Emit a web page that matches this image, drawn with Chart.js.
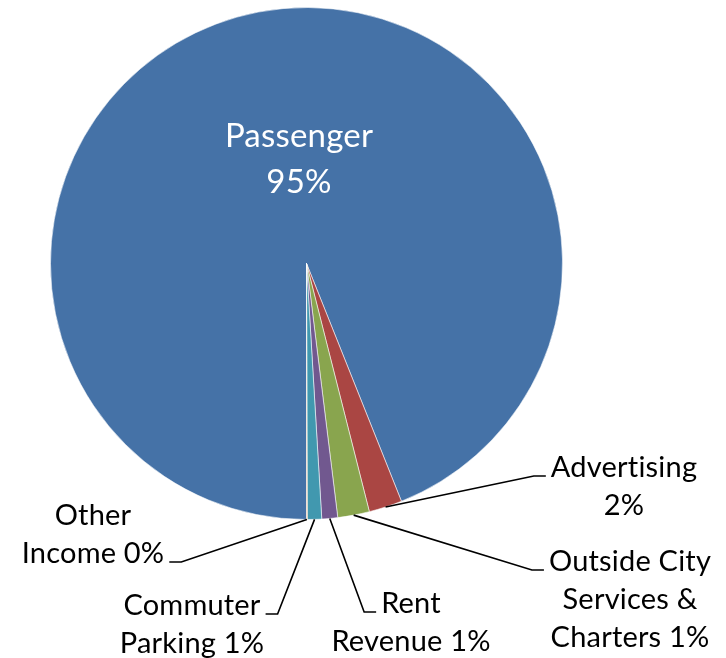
<!DOCTYPE html>
<html>
<head>
<meta charset="utf-8">
<script src="https://cdn.jsdelivr.net/npm/chart.js@4.4.0/dist/chart.umd.min.js"></script>
<style>
  html, body { margin: 0; padding: 0; background: #fff; }
  #wrap { width: 726px; height: 658px; }
</style>
</head>
<body>
<div id="wrap"><canvas id="revenuePie" width="726" height="658"></canvas></div>
<script>
// Revenue sources (share of total, %)
const categories = ['Passenger', 'Advertising', 'Outside City Services & Charters', 'Rent Revenue', 'Commuter Parking', 'Other Income'];
const shares = [94.0, 2.1, 2.0, 1.0, 0.9, 0.05];
const percentLabels = ['95%', '2%', '1%', '1%', '1%', '0%'];
// how each data label is wrapped in the picture
const labelLines = [
    ['Passenger', percentLabels[0]],
    ['Advertising', percentLabels[1]],
    ['Outside City', 'Services &', 'Charters ' + percentLabels[2]],
    ['Rent', 'Revenue ' + percentLabels[3]],
    ['Commuter', 'Parking ' + percentLabels[4]],
    ['Other', 'Income ' + percentLabels[5]]
];
const sliceColors = ['#4572A7', '#AA4643', '#89A54E', '#71588F', '#4198AF', '#DB843D'];

// label placement: centre x, first baseline y, which line the leader attaches to and on which side
const labelPlacement = [
    { x: 299, y: 147, inside: true },
    { x: 624, y: 477, attach: 0, side: 'left' },
    { x: 630, y: 571, attach: 0, side: 'left' },
    { x: 411, y: 613, attach: 0, side: 'left' },
    { x: 192, y: 615, attach: 0, side: 'right' },
    { x: 93, y: 525, attach: 1, side: 'right' }
];

const FONT = 'Lato, "Noto Sans", sans-serif';

const pieLabels = {
    id: 'pieLabels',
    afterDatasetsDraw(chart) {
        const ctx = chart.ctx;
        const arcs = chart.getDatasetMeta(0).data;
        ctx.save();
        ctx.textAlign = 'center';
        ctx.textBaseline = 'alphabetic';
        ctx.letterSpacing = '0.2px'; // keeps Lato from joining "ti"
        labelLines.forEach((lines, i) => {
            const p = labelPlacement[i];
            const size = p.inside ? 33 : 29;
            const lh = p.inside ? 46 : 38;
            ctx.font = size + 'px ' + FONT;
            ctx.fillStyle = p.inside ? '#fff' : '#000';
            lines.forEach((t, k) => ctx.fillText(t, p.x, p.y + k * lh));
            if (p.inside) return;

            // leader line from the middle of the slice's arc
            const a = arcs[i].getProps(['x', 'y', 'startAngle', 'endAngle', 'outerRadius'], true);
            const mid = (a.startAngle + a.endAngle) / 2;
            const sx = a.x + Math.cos(mid) * a.outerRadius;
            const sy = a.y + Math.sin(mid) * a.outerRadius;
            const w = ctx.measureText(lines[p.attach]).width;
            const ty = p.y + p.attach * lh - 1;
            let tailX, elbowX;
            if (p.side === 'left') {
                tailX = p.x - w / 2 - 5;
                elbowX = tailX - 12;
            } else {
                tailX = p.x + w / 2 + 5;
                elbowX = tailX + 12;
            }
            ctx.beginPath();
            ctx.moveTo(sx, sy);
            ctx.lineTo(elbowX, ty);
            ctx.lineTo(tailX, ty);
            ctx.strokeStyle = '#000';
            ctx.lineWidth = 1.6;
            ctx.stroke();
        });
        ctx.restore();
    }
};

new Chart(document.getElementById('revenuePie'), {
    type: 'pie',
    data: {
        labels: categories,
        datasets: [{
            data: shares,
            backgroundColor: sliceColors,
            borderColor: 'rgba(255,255,255,0.55)',
            borderWidth: 1
        }]
    },
    options: {
        responsive: false,
        animation: false,
        rotation: 180,
        layout: { padding: { left: 50, top: 7, right: 163, bottom: 138 } },
        plugins: {
            legend: { display: false },
            tooltip: { enabled: false }
        }
    },
    plugins: [pieLabels]
});
</script>
</body>
</html>
